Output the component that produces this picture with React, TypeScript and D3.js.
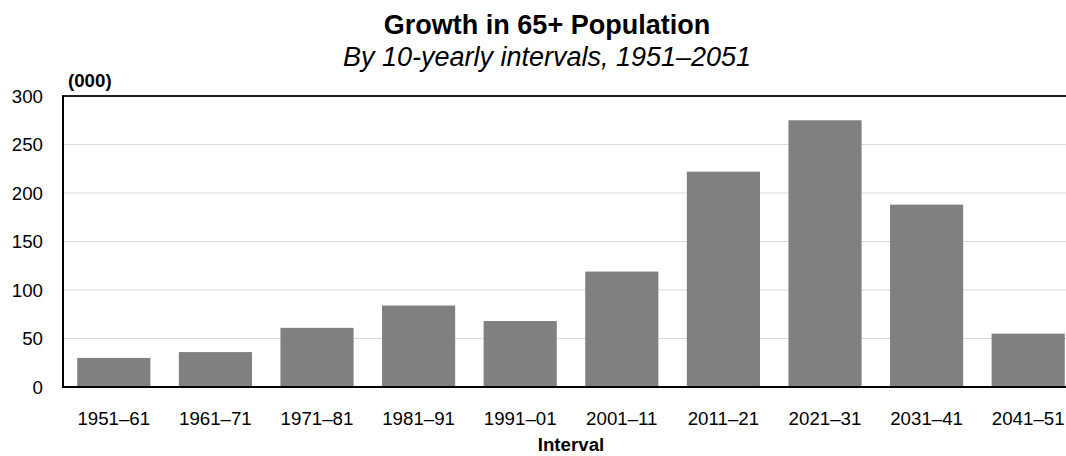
import React from 'react';
import * as d3 from 'd3';

const intervals = ['1951–61', '1961–71', '1971–81', '1981–91', '1991–01', '2001–11', '2011–21', '2021–31', '2031–41', '2041–51'];
const growth = [30, 36, 61, 84, 68, 119, 222, 275, 188, 55];
const yTicks = [0, 50, 100, 150, 200, 250, 300];

const W = 1066;
const H = 456;
const margin = { top: 96, right: -13, bottom: 69, left: 63 };
const font = 'Arial, "Liberation Sans", sans-serif';

export default function App() {
  const iw = W - margin.left - margin.right;
  const ih = H - margin.top - margin.bottom;

  const x = d3.scaleBand().domain(intervals).range([0, iw]).paddingInner(0.28).paddingOuter(0.14);
  const y = d3.scaleLinear().domain([0, 300]).range([ih, 0]);

  return (
    <svg width={W} height={H} style={{ position: 'absolute', left: 0, top: 0 }} fontFamily={font}>
      <text x={547} y={34} textAnchor="middle" fontSize={27} fontWeight="bold">Growth in 65+ Population</text>
      <text x={547} y={66} textAnchor="middle" fontSize={27} fontStyle="italic">By 10-yearly intervals, 1951–2051</text>
      <text x={68} y={87} fontSize={18.7} fontWeight="bold">(000)</text>
      <g transform={`translate(${margin.left},${margin.top})`}>
        {yTicks.map(t => (
          <g key={t}>
            {t > 0 && t < 300 && <line x1={0} x2={iw} y1={y(t)} y2={y(t)} stroke="#d9d9d9" strokeWidth={1} />}
            <text x={-20} y={y(t)} dy="0.35em" textAnchor="end" fontSize={18.7}>{t}</text>
          </g>
        ))}
        {intervals.map((c, i) => (
          <rect key={c} x={x(c)} y={y(growth[i])} width={x.bandwidth()} height={ih - y(growth[i])} fill="#808080" />
        ))}
        <line x1={0} x2={iw} y1={0} y2={0} stroke="#222" strokeWidth={2} />
        <line x1={0} x2={iw} y1={ih} y2={ih} stroke="#000" strokeWidth={2} />
        <line x1={0} x2={0} y1={-1} y2={ih + 1} stroke="#000" strokeWidth={2} />
        {intervals.map(c => (
          <text key={c} x={(x(c) ?? 0) + x.bandwidth() / 2} y={ih + 38} textAnchor="middle" fontSize={18.7}>{c}</text>
        ))}
      </g>
      <text x={571} y={451} textAnchor="middle" fontSize={18.7} fontWeight="bold">Interval</text>
    </svg>
  );
}
